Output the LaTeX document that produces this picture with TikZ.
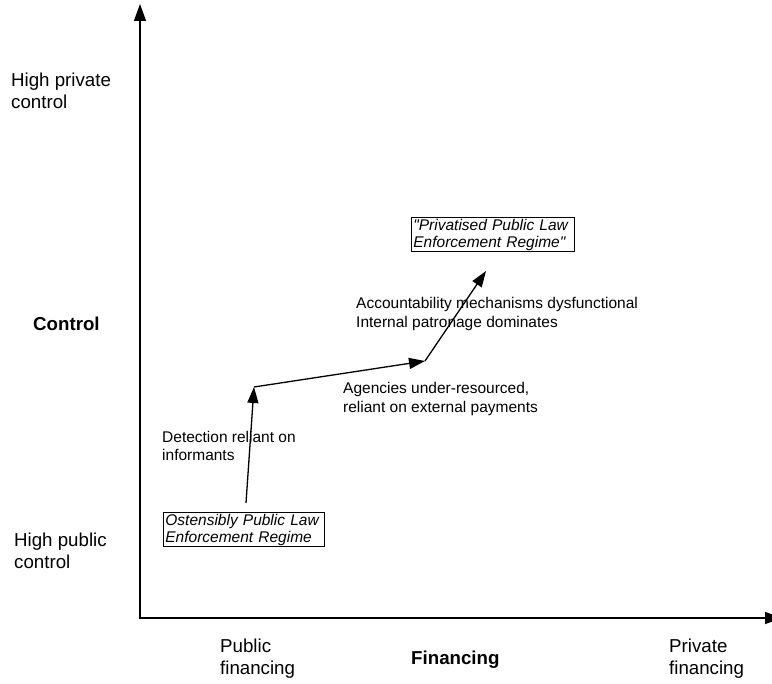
\documentclass[tikz,border=0pt]{standalone}
\usepackage{fontspec}
\setmainfont{Liberation Sans}
\usetikzlibrary{arrows.meta}
\tikzset{
  axtip/.tip={Triangle[length=17pt,width=12pt]},
  trendtip/.tip={Triangle[length=16pt,width=11pt]}
}
\begin{document}
\begin{tikzpicture}[x=1pt,y=-1pt,
  axis/.style={line width=1.4pt},
  trend/.style={line width=1.3pt,-{trendtip}},
  lbl/.style={font=\fontsize{15.5}{18.5}\selectfont,align=left,anchor=west,inner sep=0pt},
  axlbl/.style={font=\fontsize{18.7}{22}\selectfont,align=left,anchor=west,inner sep=0pt},
  axbold/.style={font=\fontsize{18.7}{22}\selectfont\bfseries,anchor=west,inner sep=0pt},
  regime/.style={draw,line width=0.8pt,font=\fontsize{15.5}{17}\selectfont\itshape,
    align=left,anchor=north west,inner xsep=2pt,inner ysep=1.5pt}]
\useasboundingbox (0,0) rectangle (772,684);

% axes
\coordinate (origin) at (140,618);
\coordinate (ytip) at (140,4);
\coordinate (xtip) at (782,618);
\draw[axis,{axtip}-{axtip}] (ytip) -- (origin) -- (xtip);

% axis labels
\node[axlbl] (hipriv) at (11,91) {High private\\control};
\node[axbold] (ctrl) at (33,324) {Control};
\node[axlbl] (hipub) at (14,551) {High public\\control};
\node[axlbl] (pubfin) at (220,659) {Public\\financing};
\node[axbold] (fin) at (411,660) {Financing};
\node[axlbl] (privfin) at (669,659) {Private\\financing};

% regimes
\node[regime,text width=157pt] (osten) at (163,512) {Ostensibly Public Law\\Enforcement Regime};
\node[regime,text width=159pt] (privat) at (411,217)
  {\textquotedbl Privatised Public Law\\Enforcement Regime\textquotedbl};

% trajectory
\coordinate (p0) at (246,503);
\coordinate (p1) at (254,387);
\coordinate (p2) at (425,361);
\coordinate (p3) at (486,271);
\draw[trend] (p0) -- (p1);
\draw[trend] (p1) -- (p2);
\draw[trend] (p2) -- (p3);

% stage descriptions
\node[lbl] (detect) at (162,446) {Detection reliant on\\informants};
\node[lbl] (agency) at (343,399) {Agencies under-resourced,\\reliant on external payments};
\node[lbl] (account) at (356,314) {Accountability mechanisms dysfunctional\\Internal patronage dominates};
\end{tikzpicture}
\end{document}
